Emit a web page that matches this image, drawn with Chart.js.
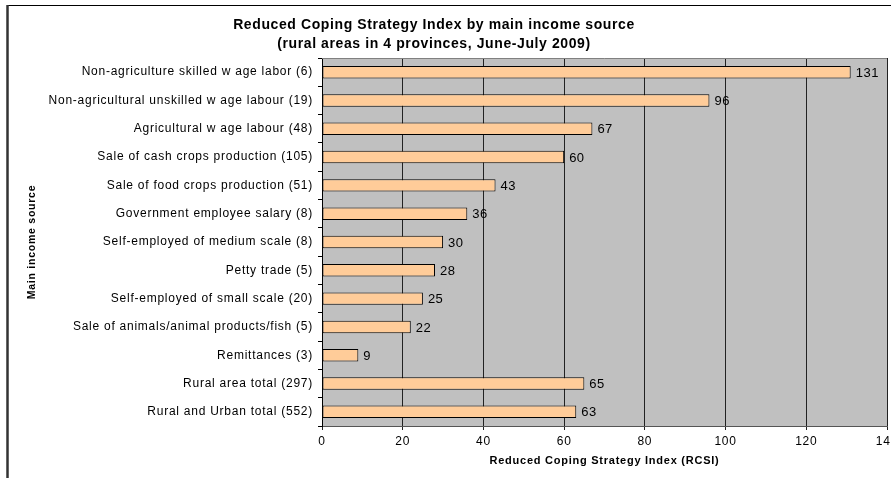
<!DOCTYPE html>
<html>
<head>
<meta charset="utf-8">
<script src="https://cdn.jsdelivr.net/npm/chart.js@4"></script>
<style>
  html, body { margin: 0; padding: 0; background: #fff; }
  canvas { display: block; }
</style>
</head>
<body>
<canvas id="rcsi" width="891" height="478"></canvas>
<script>
const titleLines = ["Reduced Coping Strategy Index by main income source", "(rural areas in 4 provinces, June-July 2009)"]
const incomeSources = [
  "Non-agriculture skilled w age labor (6)",
  "Non-agricultural unskilled w age labour (19)",
  "Agricultural w age labour (48)",
  "Sale of cash crops production (105)",
  "Sale of food crops production (51)",
  "Government employee salary (8)",
  "Self-employed of medium scale (8)",
  "Petty trade (5)",
  "Self-employed of small scale (20)",
  "Sale of animals/animal products/fish (5)",
  "Remittances (3)",
  "Rural area total (297)",
  "Rural and Urban total (552)"
]
const rcsiValues = [131, 96, 67, 60, 43, 36, 30, 28, 25, 22, 9, 65, 63]
const xTicks = [0, 20, 40, 60, 80, 100, 120, 140]

const FONT = "'Liberation Sans', Arial, sans-serif"
const SPACING = "0.75px"
Chart.defaults.font.family = FONT
Chart.defaults.color = "#000"

// the original text is set a little wider than canvas Arial
const spacing = {
  id: "spacing",
  beforeUpdate(chart) { chart.ctx.letterSpacing = SPACING },
  beforeLayout(chart) { chart.ctx.letterSpacing = SPACING },
  beforeDraw(chart) { chart.ctx.letterSpacing = SPACING }
}

// grey plot area, frame and the two-line title
const decor = {
  id: "decor",
  beforeDraw(chart) {
    const { ctx, chartArea: a } = chart
    ctx.save()
    ctx.fillStyle = "#c0c0c0"
    ctx.fillRect(a.left, a.top, a.width, a.height)
    ctx.restore()
  },
  afterDraw(chart) {
    const { ctx, chartArea: a } = chart
    ctx.save()
    ctx.strokeStyle = "#808080"
    ctx.lineWidth = 1
    ctx.beginPath()
    ctx.moveTo(a.left, a.top + 0.5)
    ctx.lineTo(a.right, a.top + 0.5)
    ctx.stroke()
    // outer frame
    ctx.strokeStyle = "#000"
    ctx.beginPath()
    ctx.moveTo(7, 5.5)
    ctx.lineTo(891, 5.5)
    ctx.stroke()
    ctx.strokeStyle = "#333"
    ctx.lineWidth = 2.5
    ctx.beginPath()
    ctx.moveTo(7.5, 5)
    ctx.lineTo(7.5, 478)
    ctx.stroke()
    // title
    ctx.letterSpacing = "0.6px"
    ctx.fillStyle = "#000"
    ctx.font = "bold 14px " + FONT
    ctx.textAlign = "center"
    ctx.textBaseline = "middle"
    ctx.fillText(titleLines[0], 434, 25)
    ctx.fillText(titleLines[1], 434, 44)
    ctx.restore()
  }
}

// value labels right of each bar
const valueLabels = {
  id: "valueLabels",
  afterDatasetsDraw(chart) {
    const { ctx } = chart
    const meta = chart.getDatasetMeta(0)
    ctx.save()
    ctx.letterSpacing = "0.5px"
    ctx.font = "13px " + FONT
    ctx.fillStyle = "#000"
    ctx.textAlign = "left"
    ctx.textBaseline = "middle"
    meta.data.forEach((bar, i) => {
      ctx.fillText(String(rcsiValues[i]), bar.x + 5, bar.y + 1)
    })
    ctx.restore()
  }
}

new Chart(document.getElementById("rcsi"), {
  type: "bar",
  data: {
    labels: incomeSources,
    datasets: [{
      data: rcsiValues,
      backgroundColor: "#ffcc99",
      borderColor: "#000",
      borderWidth: 1,
      borderSkipped: false,
      categoryPercentage: 1,
      barPercentage: 0.44
    }]
  },
  options: {
    indexAxis: "y",
    responsive: false,
    animation: false,
    layout: { padding: { top: 58, left: 0, right: 4, bottom: 0 } },
    plugins: {
      legend: { display: false },
      tooltip: { enabled: false }
    },
    scales: {
      x: {
        min: 0,
        max: 140,
        afterBuildTicks: s => { s.ticks = xTicks.map(v => ({ value: v })) },
        afterFit: s => { s.height = 52; s.paddingRight = 0; s.paddingLeft = 0 },
        grid: { color: "#222", lineWidth: 1, tickLength: 4, drawTicks: true },
        border: { display: true, color: "#555" },
        ticks: { padding: 4, maxRotation: 0, font: { size: 12 }, color: "#000" },
        title: {
          display: true,
          text: "Reduced Coping Strategy Index (RCSI)",
          font: { size: 11, weight: "bold" },
          color: "#000",
          padding: { top: 0, bottom: 10 }
        }
      },
      y: {
        afterFit: s => { s.width = 322 },
        grid: { display: true, drawOnChartArea: false, drawTicks: true, tickLength: 4, offset: true, color: "#000" },
        border: { display: true, color: "#000" },
        ticks: { autoSkip: false, padding: 5, font: { size: 12 }, color: "#000" },
        title: {
          display: true,
          text: "Main income source",
          font: { size: 10.5, weight: "bold" },
          color: "#000",
          padding: { top: 26, bottom: 0 }
        }
      }
    }
  },
  plugins: [spacing, decor, valueLabels]
})
</script>
</body>
</html>
